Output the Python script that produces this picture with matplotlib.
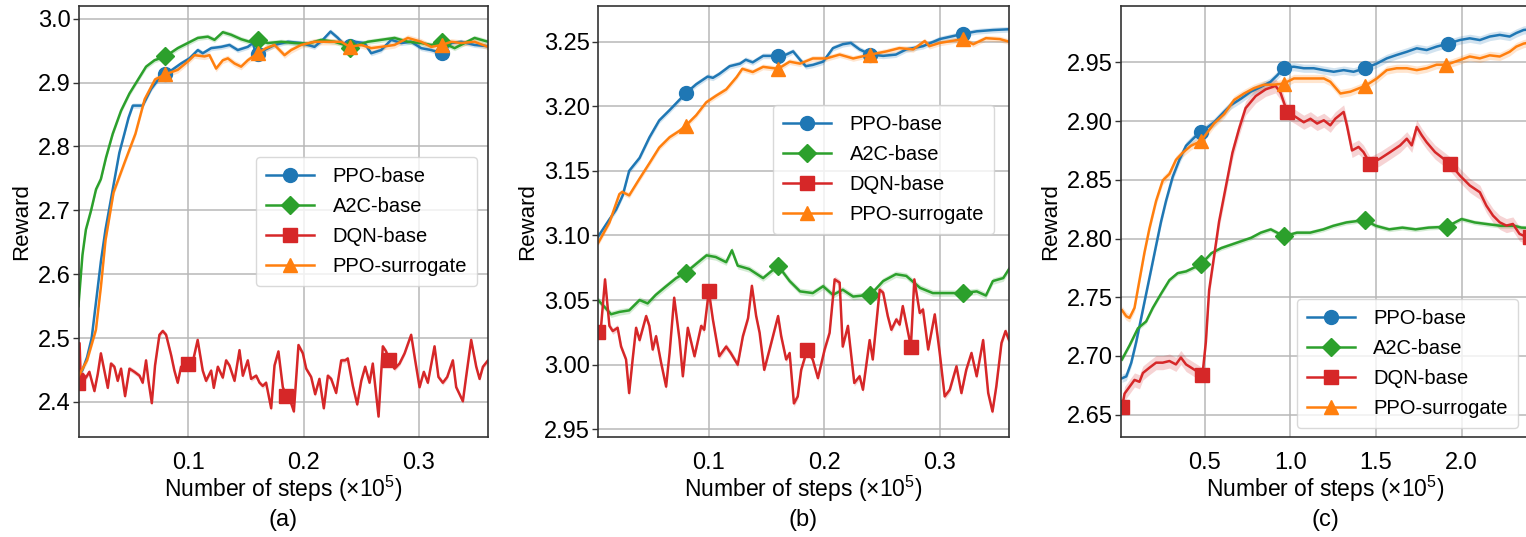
import numpy as np
import matplotlib
matplotlib.use("Agg")
import matplotlib.pyplot as plt

plt.rcParams['font.family'] = ['Liberation Sans', 'DejaVu Sans']

# ---------------- data: panel (a) ----------------
a_ppo_x = [0.0045, 0.008, 0.012, 0.016, 0.020, 0.024, 0.028, 0.032, 0.036, 0.040, 0.0444, 0.048, 0.0517, 0.0603,
           0.0676, 0.0763, 0.080, 0.085, 0.0936, 0.1009, 0.1081, 0.1124, 0.1197, 0.1284, 0.1356, 0.1428, 0.1515,
           0.1559, 0.1588, 0.160, 0.166, 0.1747, 0.1863, 0.1978, 0.2094, 0.2166, 0.2233, 0.2297, 0.2355, 0.240,
           0.2441, 0.2528, 0.2586, 0.2673, 0.276, 0.2847, 0.2933, 0.302, 0.3107, 0.320, 0.3281, 0.3368, 0.3483, 0.36]
a_ppo_y = [2.44, 2.45, 2.47, 2.50, 2.56, 2.62, 2.67, 2.71, 2.75, 2.79, 2.82, 2.845, 2.864, 2.864,
           2.890, 2.911, 2.914, 2.919, 2.930, 2.938, 2.951, 2.946, 2.954, 2.956, 2.959, 2.951, 2.956,
           2.962, 2.943, 2.945, 2.951, 2.959, 2.964, 2.962, 2.956, 2.967, 2.980, 2.970, 2.959, 2.958,
           2.964, 2.962, 2.946, 2.951, 2.967, 2.962, 2.964, 2.954, 2.951, 2.946, 2.962, 2.964, 2.959, 2.957]

a_a2c_x = [0.0045, 0.008, 0.011, 0.0155, 0.0198, 0.024, 0.0285, 0.0343, 0.0415, 0.0488, 0.056, 0.0632, 0.0705,
           0.080, 0.0907, 0.0994, 0.1081, 0.1168, 0.1226, 0.1298, 0.137, 0.1457, 0.153, 0.160, 0.1689, 0.1805,
           0.192, 0.2036, 0.2152, 0.2268, 0.2355, 0.240, 0.247, 0.2557, 0.2673, 0.2789, 0.2904, 0.302, 0.3107,
           0.320, 0.331, 0.3397, 0.3483, 0.36]
a_a2c_y = [2.55, 2.63, 2.67, 2.70, 2.733, 2.749, 2.783, 2.820, 2.856, 2.883, 2.904, 2.925, 2.935,
           2.941, 2.954, 2.962, 2.970, 2.972, 2.967, 2.979, 2.975, 2.968, 2.964, 2.966, 2.962, 2.964,
           2.962, 2.961, 2.967, 2.964, 2.959, 2.954, 2.959, 2.964, 2.967, 2.970, 2.964, 2.962, 2.959,
           2.963, 2.954, 2.962, 2.970, 2.964]

a_dqn_x = [0.004, 0.0055, 0.0068, 0.0082, 0.011, 0.014, 0.0184, 0.0213, 0.024, 0.027, 0.030, 0.0328, 0.0357,
           0.0386, 0.0415, 0.045, 0.0488, 0.0531, 0.0575, 0.0603, 0.0632, 0.0653, 0.0682, 0.071, 0.0748, 0.0777,
           0.0806, 0.085, 0.0878, 0.0907, 0.0936, 0.100, 0.1038, 0.108, 0.1124, 0.1153, 0.1197, 0.122, 0.1255,
           0.1298, 0.1327, 0.1356, 0.14, 0.1443, 0.1472, 0.1515, 0.1544, 0.1588, 0.1617, 0.1645, 0.1674, 0.1718,
           0.1747, 0.1781, 0.1819, 0.185, 0.1891, 0.1915, 0.1955, 0.1993, 0.2022, 0.2065, 0.21, 0.2137, 0.2175,
           0.221, 0.2239, 0.2282, 0.2326, 0.236, 0.2383, 0.2427, 0.2465, 0.25, 0.2534, 0.2572, 0.26, 0.265,
           0.2687, 0.2716, 0.274, 0.2789, 0.2832, 0.2876, 0.2933, 0.2968, 0.3006, 0.3043, 0.3078, 0.3136,
           0.317, 0.3208, 0.3246, 0.3295, 0.3324, 0.3382, 0.341, 0.3454, 0.3498, 0.3527, 0.3556, 0.36]
a_dqn_y = [2.43, 2.492, 2.422, 2.444, 2.438, 2.447, 2.417, 2.444, 2.476, 2.449, 2.422, 2.460, 2.455,
           2.433, 2.452, 2.409, 2.452, 2.447, 2.441, 2.430, 2.465, 2.433, 2.398, 2.457, 2.505, 2.511,
           2.505, 2.473, 2.449, 2.430, 2.455, 2.460, 2.463, 2.497, 2.449, 2.433, 2.449, 2.422, 2.455,
           2.438, 2.465, 2.457, 2.433, 2.481, 2.441, 2.465, 2.436, 2.441, 2.430, 2.425, 2.430, 2.390,
           2.457, 2.479, 2.423, 2.409, 2.398, 2.385, 2.489, 2.476, 2.452, 2.439, 2.412, 2.436, 2.390,
           2.441, 2.436, 2.414, 2.465, 2.465, 2.468, 2.425, 2.396, 2.433, 2.455, 2.430, 2.460, 2.377,
           2.487, 2.479, 2.466, 2.452, 2.460, 2.476, 2.505, 2.465, 2.423, 2.447, 2.430, 2.487,
           2.439, 2.430, 2.439, 2.465, 2.423, 2.401, 2.439, 2.497, 2.455, 2.436, 2.455, 2.465]

a_sur_x = [0.0045, 0.012, 0.0197, 0.024, 0.028, 0.035, 0.045, 0.054, 0.062, 0.071, 0.080, 0.0907, 0.0994,
           0.1052, 0.1139, 0.1182, 0.124, 0.1298, 0.1342, 0.14, 0.1457, 0.1515, 0.160, 0.1674, 0.1747, 0.1834,
           0.1891, 0.1978, 0.2094, 0.221, 0.2326, 0.240, 0.2499, 0.2586, 0.2673, 0.2789, 0.2904, 0.302, 0.3107,
           0.320, 0.3281, 0.3368, 0.3483, 0.36]
a_sur_y = [2.44, 2.465, 2.513, 2.58, 2.653, 2.728, 2.777, 2.820, 2.874, 2.905, 2.913, 2.920, 2.933,
           2.943, 2.941, 2.943, 2.922, 2.935, 2.938, 2.930, 2.925, 2.935, 2.946, 2.954, 2.959, 2.943,
           2.951, 2.959, 2.964, 2.964, 2.964, 2.956, 2.959, 2.954, 2.956, 2.959, 2.970, 2.964, 2.956,
           2.959, 2.964, 2.962, 2.964, 2.956]

# ---------------- data: panel (b) ----------------
b_ppo_x = [0.004, 0.0139, 0.0197, 0.0254, 0.031, 0.040, 0.0486, 0.057, 0.066, 0.0746, 0.080, 0.089, 0.099,
           0.1035, 0.109, 0.118, 0.127, 0.132, 0.138, 0.147, 0.160, 0.167, 0.173, 0.179, 0.184, 0.19, 0.199,
           0.2075, 0.216, 0.223, 0.2306, 0.240, 0.251, 0.262, 0.271, 0.2855, 0.30, 0.320, 0.332, 0.346, 0.36]
b_ppo_y = [3.099, 3.1125, 3.120, 3.131, 3.150, 3.160, 3.176, 3.189, 3.197, 3.205, 3.210, 3.217, 3.223,
           3.222, 3.225, 3.231, 3.233, 3.236, 3.234, 3.239, 3.239, 3.240, 3.2425, 3.236, 3.231, 3.232, 3.2345,
           3.245, 3.248, 3.249, 3.244, 3.240, 3.239, 3.240, 3.244, 3.2465, 3.252, 3.256, 3.258, 3.259, 3.2596]

b_a2c_x = [0.004, 0.011, 0.0153, 0.0225, 0.031, 0.040, 0.047, 0.054, 0.063, 0.0717, 0.080, 0.089, 0.098,
           0.106, 0.115, 0.120, 0.125, 0.135, 0.147, 0.160, 0.170, 0.179, 0.19, 0.199, 0.2075, 0.216, 0.225,
           0.240, 0.251, 0.262, 0.271, 0.283, 0.294, 0.306, 0.320, 0.332, 0.34, 0.346, 0.355, 0.36]
b_a2c_y = [3.050, 3.0434, 3.039, 3.0408, 3.042, 3.050, 3.0474, 3.054, 3.0607, 3.067, 3.0713, 3.078, 3.0846,
           3.0833, 3.0793, 3.0885, 3.0766, 3.074, 3.067, 3.0766, 3.0647, 3.0567, 3.0554, 3.0607, 3.054, 3.058, 3.0527,
           3.0541, 3.0647, 3.070, 3.0687, 3.0594, 3.0554, 3.0554, 3.0554, 3.0567, 3.0535, 3.0647, 3.067, 3.074]

b_dqn_x = [0.004, 0.0064, 0.0101, 0.0139, 0.0168, 0.021, 0.024, 0.0283, 0.031, 0.034, 0.037, 0.040, 0.0457,
           0.0485, 0.0514, 0.0543, 0.0587, 0.063, 0.066, 0.070, 0.0746, 0.0775, 0.0818, 0.0876, 0.0934, 0.096,
           0.100, 0.1035, 0.109, 0.115, 0.119, 0.125, 0.1295, 0.134, 0.1373, 0.141, 0.144, 0.148, 0.1526, 0.16,
           0.1627, 0.167, 0.17, 0.1737, 0.177, 0.18, 0.185, 0.19, 0.1945, 0.2003, 0.2046, 0.209, 0.2133, 0.216,
           0.2205, 0.226, 0.2306, 0.2335, 0.2393, 0.242, 0.248, 0.251, 0.255, 0.2581, 0.2624, 0.2653, 0.268,
           0.275, 0.278, 0.2827, 0.2855, 0.29, 0.2957, 0.30, 0.3043, 0.3087, 0.3145, 0.3188, 0.323, 0.3275,
           0.332, 0.3376, 0.342, 0.3457, 0.349, 0.3535, 0.357, 0.36]
b_dqn_y = [3.025, 3.027, 3.066, 3.030, 3.026, 3.0285, 3.014, 3.004, 2.978, 3.004, 3.0285, 3.019, 3.0376,
           3.030, 3.0117, 3.022, 3.0013, 2.983, 3.009, 3.0518, 3.0194, 2.991, 3.0285, 3.0065, 3.030, 3.027,
           3.057, 3.035, 3.0065, 3.014, 3.009, 3.000, 3.022, 3.036, 3.061, 3.0376, 3.0246, 2.996, 3.0117, 3.0376,
           3.022, 3.004, 3.009, 2.970, 2.9754, 2.996, 3.011, 3.004, 2.9896, 3.0117, 3.0246, 3.066, 3.0635, 3.014,
           3.030, 2.9858, 2.991, 2.9806, 3.019, 3.004, 3.058, 3.0557, 3.0376, 3.027, 3.035, 3.031, 3.0453,
           3.014, 3.066, 3.040, 3.0427, 3.0117, 3.0389, 3.009, 2.9754, 2.9806, 2.9987, 2.978, 2.9961, 3.009,
           2.991, 3.019, 2.978, 2.9637, 2.983, 3.0168, 3.026, 3.019]

b_sur_x = [0.004, 0.0139, 0.0225, 0.025, 0.031, 0.040, 0.0486, 0.057, 0.066, 0.0746, 0.080, 0.089, 0.0977,
           0.106, 0.115, 0.124, 0.129, 0.138, 0.147, 0.160, 0.170, 0.179, 0.19, 0.2017, 0.2133, 0.225, 0.240,
           0.254, 0.265, 0.277, 0.287, 0.291, 0.30, 0.320, 0.329, 0.34, 0.352, 0.36]
b_sur_y = [3.094, 3.110, 3.132, 3.1337, 3.131, 3.144, 3.156, 3.168, 3.176, 3.181, 3.185, 3.193, 3.203,
           3.208, 3.213, 3.2225, 3.229, 3.2265, 3.2305, 3.229, 3.2345, 3.233, 3.237, 3.237, 3.240, 3.237, 3.240,
           3.2425, 3.245, 3.244, 3.2505, 3.2465, 3.249, 3.252, 3.248, 3.2527, 3.252, 3.250]

# ---------------- data: panel (c) ----------------
c_ppo_x = [0.0155, 0.041, 0.07, 0.099, 0.128, 0.157, 0.186, 0.215, 0.244, 0.273, 0.312, 0.351, 0.39, 0.438,
           0.477, 0.554, 0.613, 0.651, 0.71, 0.768, 0.826, 0.884, 0.923, 0.962, 1.02, 1.078, 1.136, 1.195,
           1.253, 1.311, 1.369, 1.437, 1.505, 1.563, 1.621, 1.68, 1.738, 1.796, 1.854, 1.922, 1.99, 2.048,
           2.107, 2.165, 2.223, 2.281, 2.32, 2.363, 2.40]
c_ppo_y = [2.681, 2.6826, 2.6943, 2.712, 2.7324, 2.753, 2.7734, 2.794, 2.8144, 2.832, 2.8525, 2.867, 2.879, 2.886,
           2.8905, 2.899, 2.908, 2.9135, 2.919, 2.925, 2.929, 2.9335, 2.939, 2.9454, 2.9463, 2.945, 2.945, 2.9434,
           2.942, 2.9434, 2.942, 2.945, 2.949, 2.9534, 2.9563, 2.959, 2.962, 2.9605, 2.9634, 2.966, 2.969, 2.9705,
           2.969, 2.972, 2.9734, 2.972, 2.975, 2.9776, 2.978]

c_a2c_x = [0.0155, 0.06, 0.109, 0.157, 0.196, 0.244, 0.293, 0.341, 0.39, 0.477, 0.538, 0.596, 0.654, 0.712,
           0.77, 0.827, 0.885, 0.962, 1.038, 1.115, 1.192, 1.25, 1.327, 1.433, 1.5, 1.577, 1.654, 1.731, 1.808,
           1.913, 2.0, 2.077, 2.154, 2.231, 2.308, 2.35, 2.40]
c_a2c_y = [2.697, 2.709, 2.7236, 2.7294, 2.741, 2.753, 2.7646, 2.7705, 2.772, 2.778, 2.7875, 2.7919, 2.7948, 2.7977,
           2.8006, 2.805, 2.8078, 2.802, 2.805, 2.805, 2.8078, 2.8108, 2.8137, 2.8157, 2.8108, 2.8078, 2.8093, 2.8078,
           2.8093, 2.810, 2.8166, 2.8137, 2.8122, 2.8108, 2.8108, 2.8093, 2.809]

c_dqn_x = [0.0155, 0.031, 0.06, 0.089, 0.118, 0.138, 0.176, 0.215, 0.254, 0.293, 0.331, 0.36, 0.39, 0.438,
           0.486, 0.506, 0.525, 0.554, 0.583, 0.622, 0.661, 0.70, 0.738, 0.797, 0.855, 0.913, 0.942, 0.981,
           1.03, 1.078, 1.117, 1.156, 1.195, 1.233, 1.262, 1.311, 1.33, 1.36, 1.398, 1.427, 1.466, 1.524, 1.583,
           1.641, 1.68, 1.709, 1.738, 1.767, 1.796, 1.845, 1.932, 1.99, 2.048, 2.107, 2.145, 2.184, 2.223,
           2.262, 2.30, 2.339, 2.363, 2.40]
c_dqn_y = [2.6562, 2.668, 2.6738, 2.6796, 2.678, 2.6855, 2.690, 2.6943, 2.6943, 2.6957, 2.6928, 2.6987, 2.6928, 2.6884,
           2.684, 2.712, 2.756, 2.785, 2.8144, 2.8437, 2.873, 2.8935, 2.911, 2.9213, 2.927, 2.930, 2.9242, 2.9078,
           2.9036, 2.899, 2.902, 2.8979, 2.9007, 2.8964, 2.902, 2.9078, 2.8964, 2.875, 2.878, 2.8736, 2.8637, 2.868, 2.8736,
           2.8793, 2.885, 2.8793, 2.895, 2.888, 2.882, 2.8736, 2.8637, 2.8537, 2.8452, 2.8394, 2.828, 2.8195, 2.8138,
           2.811, 2.8124, 2.8039, 2.8024, 2.801]

c_sur_x = [0.0155, 0.041, 0.06, 0.089, 0.118, 0.147, 0.176, 0.215, 0.254, 0.293, 0.331, 0.37, 0.419, 0.477,
           0.554, 0.613, 0.671, 0.729, 0.787, 0.845, 0.904, 0.962, 1.02, 1.078, 1.136, 1.195, 1.233, 1.292,
           1.35, 1.437, 1.505, 1.563, 1.621, 1.68, 1.738, 1.796, 1.854, 1.912, 1.99, 2.048, 2.107, 2.165,
           2.223, 2.281, 2.32, 2.363, 2.40]
c_sur_y = [2.739, 2.7338, 2.7324, 2.741, 2.7646, 2.788, 2.8085, 2.832, 2.8495, 2.855, 2.867, 2.873, 2.879, 2.883,
           2.898, 2.906, 2.918, 2.9235, 2.928, 2.931, 2.931, 2.932, 2.9363, 2.9363, 2.9363, 2.9363, 2.9335, 2.9235,
           2.925, 2.930, 2.9363, 2.9434, 2.945, 2.945, 2.9434, 2.945, 2.948, 2.948, 2.952, 2.955, 2.9534, 2.956,
           2.955, 2.959, 2.9634, 2.966, 2.967]

# marker positions (x) for each series
a_marks = {'ppo': [0.08, 0.16, 0.24, 0.32], 'a2c': [0.08, 0.16, 0.24, 0.32],
           'dqn': [0.004, 0.10, 0.185, 0.274], 'sur': [0.08, 0.16, 0.24, 0.32]}
b_marks = {'ppo': [0.08, 0.16, 0.24, 0.32], 'a2c': [0.08, 0.16, 0.24, 0.32],
           'dqn': [0.004, 0.10, 0.185, 0.275], 'sur': [0.08, 0.16, 0.24, 0.32]}
c_marks = {'ppo': [0.477, 0.962, 1.437, 1.922], 'a2c': [0.477, 0.962, 1.433, 1.913],
           'dqn': [0.0155, 0.486, 0.981, 1.466, 1.932, 2.40], 'sur': [0.477, 0.962, 1.437, 1.912]}

# band half-widths (std) per series
a_band = {'ppo': 0.004, 'a2c': 0.004, 'dqn': 0.004, 'sur': 0.005}
b_band = {'ppo': 0.0022, 'a2c': 0.0025, 'dqn': 0.0025, 'sur': 0.0022}
c_band = {'ppo': 0.0035, 'a2c': 0.002, 'dqn': 0.006, 'sur': 0.0035}

labels = ['PPO-base', 'A2C-base', 'DQN-base', 'PPO-surrogate']
keys = ['ppo', 'a2c', 'dqn', 'sur']
colors = {'ppo': '#1f77b4', 'a2c': '#2ca02c', 'dqn': '#d62728', 'sur': '#ff7f0e'}
markers = {'ppo': 'o', 'a2c': 'D', 'dqn': 's', 'sur': '^'}
msizes = {'ppo': 10, 'a2c': 9, 'dqn': 10, 'sur': 10}

panels = [
    dict(data={'ppo': (a_ppo_x, a_ppo_y), 'a2c': (a_a2c_x, a_a2c_y), 'dqn': (a_dqn_x, a_dqn_y), 'sur': (a_sur_x, a_sur_y)},
         marks=a_marks, band=a_band, xlim=(0.005, 0.36), ylim=(2.345, 3.02),
         xticks=[0.1, 0.2, 0.3], yticks=[2.4, 2.5, 2.6, 2.7, 2.8, 2.9, 3.0], yfmt='%.1f', xfmt='%.1f',
         pos=[79, 409], leg=(0.433, 0.650), tag='(a)'),
    dict(data={'ppo': (b_ppo_x, b_ppo_y), 'a2c': (b_a2c_x, b_a2c_y), 'dqn': (b_dqn_x, b_dqn_y), 'sur': (b_sur_x, b_sur_y)},
         marks=b_marks, band=b_band, xlim=(0.004, 0.36), ylim=(2.944, 3.2776),
         xticks=[0.1, 0.2, 0.3], yticks=[2.95, 3.00, 3.05, 3.10, 3.15, 3.20, 3.25], yfmt='%.2f', xfmt='%.1f',
         pos=[598, 411], leg=(0.426, 0.771), tag='(b)'),
    dict(data={'ppo': (c_ppo_x, c_ppo_y), 'a2c': (c_a2c_x, c_a2c_y), 'dqn': (c_dqn_x, c_dqn_y), 'sur': (c_sur_x, c_sur_y)},
         marks=c_marks, band=c_band, xlim=(0.01, 2.40), ylim=(2.631, 2.998),
         xticks=[0.5, 1.0, 1.5, 2.0], yticks=[2.65, 2.70, 2.75, 2.80, 2.85, 2.90, 2.95], yfmt='%.2f', xfmt='%.1f',
         pos=[1121, 409], leg=(0.43, 0.32), tag='(c)'),
]

W, H = 1526, 537
fig = plt.figure(figsize=(W / 100, H / 100), dpi=100)
ax_top, ax_bot = 6, 437

for p in panels:
    l, w = p['pos']
    ax = fig.add_axes([l / W, (H - ax_bot) / H, w / W, (ax_bot - ax_top) / H])
    ax.set_axisbelow(True)
    ax.grid(True, color='#b8b8b8', linewidth=1.1)
    handles = []
    for k, lab in zip(keys, labels):
        x = np.asarray(p['data'][k][0])
        y = np.asarray(p['data'][k][1])
        b = p['band'][k]
        ax.fill_between(x, y - b, y + b, color=colors[k], alpha=0.2, linewidth=0)
        idx = sorted(set(int(np.argmin(np.abs(x - m))) for m in p['marks'][k]))
        h, = ax.plot(x, y, color=colors[k], lw=1.8, marker=markers[k], markevery=idx,
                     markersize=msizes[k], label=lab)
        handles.append(h)
    ax.set_xlim(*p['xlim'])
    ax.set_ylim(*p['ylim'])
    ax.set_xticks(p['xticks'])
    ax.set_yticks(p['yticks'])
    ax.set_xticklabels([p['xfmt'] % v for v in p['xticks']])
    ax.set_yticklabels([p['yfmt'] % v for v in p['yticks']])
    ax.tick_params(axis='y', length=4, width=1, labelsize=17, pad=2, color='#333333')
    ax.tick_params(axis='x', length=0, labelsize=17, pad=11)
    for s in ax.spines.values():
        s.set_color('#333333')
        s.set_linewidth(1.2)
    ax.set_xlabel('Number of steps ($\\mathregular{\\times10^5}$)', fontsize=16.5, labelpad=0)
    ax.set_ylabel('Reward', fontsize=16, labelpad=4)
    ax.legend(handles=handles, loc='upper left', bbox_to_anchor=p['leg'], borderaxespad=0,
              fontsize=14.5, handlelength=2.4, labelspacing=0.55, handletextpad=0.9,
              borderpad=0.5, framealpha=0.8, edgecolor='#d0d0d0')
    cx = (l + w / 2) / W
    fig.text(cx, 1 - 520 / H, p['tag'], ha='center', va='center', fontsize=17)

fig.savefig('out.png', dpi=100)
